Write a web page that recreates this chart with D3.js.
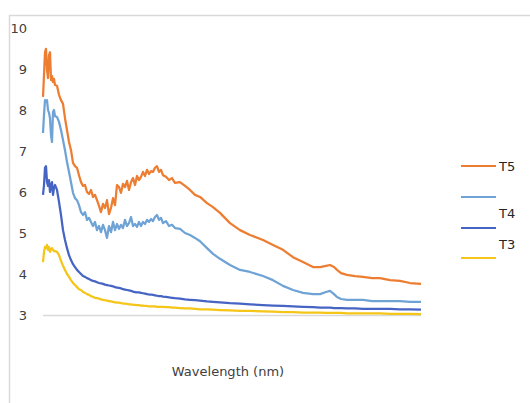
<!DOCTYPE html>
<html>
<head>
<meta charset="utf-8">
<script src="https://cdn.jsdelivr.net/npm/d3@7/dist/d3.min.js"></script>
<style>
  body { margin: 0; background: #fff; }
  text { font-family: "DejaVu Sans", sans-serif; }
</style>
</head>
<body>
<div id="chart"></div>
<script>
var svgWidth = 530;
var svgHeight = 403;

// wavelength samples (nm) shared by all series
var wavelength = [300,302,304,306,308,310,312,314,316,318,320,322,324,328,332,336,340,344,348,352,
  356,360,364,368,372,376,380,384,388,392,396,400,404,408,412,416,420,424,428,432,
  436,440,444,448,452,456,460,464,468,472,476,480,484,488,492,496,500,504,508,512,
  516,520,524,528,532,536,540,546,552,558,564,574,584,594,604,614,628,640,654,674,
  694,714,740,760,780,800,820,840,854,866,874,882,888,896,908,924,940,958,974,994,
  1014,1034,1056];

var t5 = [8.32,8.85,9.41,9.49,8.98,8.78,9.34,9.41,8.73,8.83,8.68,8.76,8.61,8.59,8.37,8.24,8.15,7.80,7.51,7.22,
  7.02,6.71,6.63,6.59,6.41,6.24,6.15,6.17,6.00,5.95,6.05,5.88,5.93,5.80,5.66,5.51,5.71,5.61,5.80,5.46,
  5.61,5.85,5.68,6.17,6.12,5.98,6.20,6.12,6.27,6.05,6.24,6.34,6.17,6.39,6.29,6.37,6.49,6.39,6.54,6.44,
  6.51,6.49,6.59,6.63,6.49,6.54,6.41,6.37,6.29,6.34,6.22,6.24,6.15,6.05,5.93,5.88,5.73,5.63,5.49,5.24,
  5.07,4.95,4.83,4.71,4.59,4.41,4.29,4.17,4.17,4.20,4.22,4.17,4.10,4.02,3.98,3.95,3.93,3.90,3.90,3.85,
  3.83,3.78,3.76];

var s2 = [7.44,7.88,8.24,8.20,8.24,8.00,7.93,7.80,7.39,7.22,7.95,8.00,7.85,7.83,7.71,7.51,7.27,7.02,6.73,6.49,
  6.24,5.98,5.85,5.80,5.68,5.51,5.44,5.51,5.32,5.37,5.27,5.17,5.27,5.07,5.17,5.02,5.20,5.07,4.88,5.17,
  5.02,5.27,5.07,5.22,5.10,5.20,5.12,5.32,5.17,5.24,5.39,5.17,5.22,5.15,5.27,5.17,5.27,5.22,5.32,5.27,
  5.34,5.29,5.39,5.44,5.32,5.37,5.24,5.29,5.17,5.20,5.12,5.10,5.00,4.95,4.88,4.80,4.63,4.49,4.37,4.22,
  4.10,4.05,3.95,3.85,3.71,3.61,3.54,3.51,3.51,3.56,3.59,3.51,3.44,3.39,3.37,3.37,3.37,3.34,3.34,3.34,
  3.34,3.32,3.32];

var t4 = [5.93,6.17,6.59,6.63,6.24,6.15,6.29,6.00,6.17,6.24,5.93,6.10,6.17,6.05,5.76,5.44,5.07,4.83,4.63,4.46,
  4.34,4.24,4.17,4.10,4.05,4.00,3.95,3.93,3.90,3.88,3.85,3.83,3.82,3.80,3.78,3.77,3.76,3.74,3.73,3.72,
  3.71,3.70,3.68,3.67,3.66,3.65,3.63,3.62,3.61,3.60,3.59,3.57,3.56,3.55,3.55,3.54,3.53,3.52,3.51,3.50,
  3.50,3.49,3.48,3.47,3.46,3.46,3.45,3.44,3.43,3.42,3.41,3.40,3.38,3.37,3.36,3.35,3.33,3.32,3.31,3.29,
  3.28,3.26,3.24,3.23,3.22,3.21,3.20,3.19,3.18,3.18,3.18,3.17,3.17,3.17,3.16,3.16,3.15,3.15,3.15,3.15,
  3.14,3.14,3.13];

var t3 = [4.29,4.54,4.66,4.63,4.71,4.59,4.66,4.54,4.61,4.63,4.59,4.56,4.56,4.54,4.46,4.32,4.20,4.10,4.00,3.93,
  3.85,3.78,3.73,3.68,3.63,3.61,3.56,3.54,3.51,3.49,3.46,3.44,3.42,3.41,3.40,3.38,3.37,3.36,3.35,3.34,
  3.33,3.32,3.31,3.30,3.30,3.29,3.28,3.28,3.27,3.26,3.26,3.25,3.25,3.24,3.24,3.23,3.23,3.22,3.22,3.21,
  3.21,3.21,3.21,3.20,3.20,3.20,3.20,3.19,3.19,3.18,3.18,3.17,3.16,3.16,3.15,3.14,3.14,3.13,3.12,3.11,
  3.10,3.10,3.09,3.08,3.07,3.07,3.06,3.06,3.06,3.05,3.05,3.05,3.05,3.05,3.04,3.04,3.04,3.04,3.04,3.03,
  3.03,3.03,3.02];

var yTicks = [3, 4, 5, 6, 7, 8, 9, 10];

// legend as it shows in the picture: 4 swatches, 3 labels
var legendColors = ["#ed7d31", "#6fa3d6", "#4664c4", "#f5c518"];
var legendLabels = ["T5", "", "T4", "T3"];

var series = [
  { values: t5, color: "#ed7d31" },
  { values: s2, color: "#6fa3d6" },
  { values: t4, color: "#4664c4" },
  { values: t3, color: "#f5c518" }
];

// plot area in pixels
var margin = { top: 28, left: 43 };
var width = 378;
var height = 287;

var svg = d3.select("#chart")
  .append("svg")
  .attr("width", svgWidth)
  .attr("height", svgHeight);

// chart frame
svg.append("rect")
  .attr("x", 9.5)
  .attr("y", 15.5)
  .attr("width", 540)
  .attr("height", 400)
  .attr("fill", "none")
  .attr("stroke", "#d9d9d9")
  .attr("stroke-width", 1.5);

var chart = svg.append("g")
  .attr("transform", `translate(${margin.left}, ${margin.top})`);

var xScale = d3.scaleLinear()
  .domain([300, 1056])
  .range([0, width]);

var yScale = d3.scaleLinear()
  .domain([3, 10])
  .range([height, 0]);

// y axis labels only, no line
var leftAxis = d3.axisLeft(yScale)
  .tickValues(yTicks)
  .tickSize(0)
  .tickPadding(16)
  .tickFormat(d3.format("d"));

var yAxisG = chart.append("g").call(leftAxis);
yAxisG.select(".domain").remove();
yAxisG.selectAll("text")
  .attr("font-size", "13px")
  .attr("font-family", "DejaVu Sans")
  .attr("fill", "#404040");

// horizontal axis line at 3
chart.append("line")
  .attr("x1", 0)
  .attr("x2", width)
  .attr("y1", yScale(3) + 0.5)
  .attr("y2", yScale(3) + 0.5)
  .attr("stroke", "#d9d9d9")
  .attr("stroke-width", 1.5);

var line = d3.line()
  .x((d, i) => xScale(wavelength[i]))
  .y(d => yScale(d));

// draw from back to front like the picture (yellow under)
series.slice().reverse().forEach(function(s) {
  chart.append("path")
    .datum(s.values)
    .attr("d", line)
    .attr("fill", "none")
    .attr("stroke", s.color)
    .attr("stroke-width", 2.25)
    .attr("stroke-linejoin", "round");
});

// x axis title
svg.append("text")
  .attr("x", 228)
  .attr("y", 376)
  .attr("text-anchor", "middle")
  .attr("font-size", "13px")
  .attr("fill", "#404040")
  .text("Wavelength (nm)");

// legend
var legendY = [166, 197, 228, 258];
var labelY = [166, 213, 244];
legendColors.forEach(function(c, i) {
  svg.append("line")
    .attr("x1", 461)
    .attr("x2", 496)
    .attr("y1", legendY[i])
    .attr("y2", legendY[i])
    .attr("stroke", c)
    .attr("stroke-width", 2);
});
legendLabels.filter(d => d !== "").forEach(function(t, i) {
  svg.append("text")
    .attr("x", 499)
    .attr("y", labelY[i])
    .attr("dy", "0.35em")
    .attr("font-size", "13px")
    .attr("fill", "#262626")
    .text(t);
});
</script>
</body>
</html>
